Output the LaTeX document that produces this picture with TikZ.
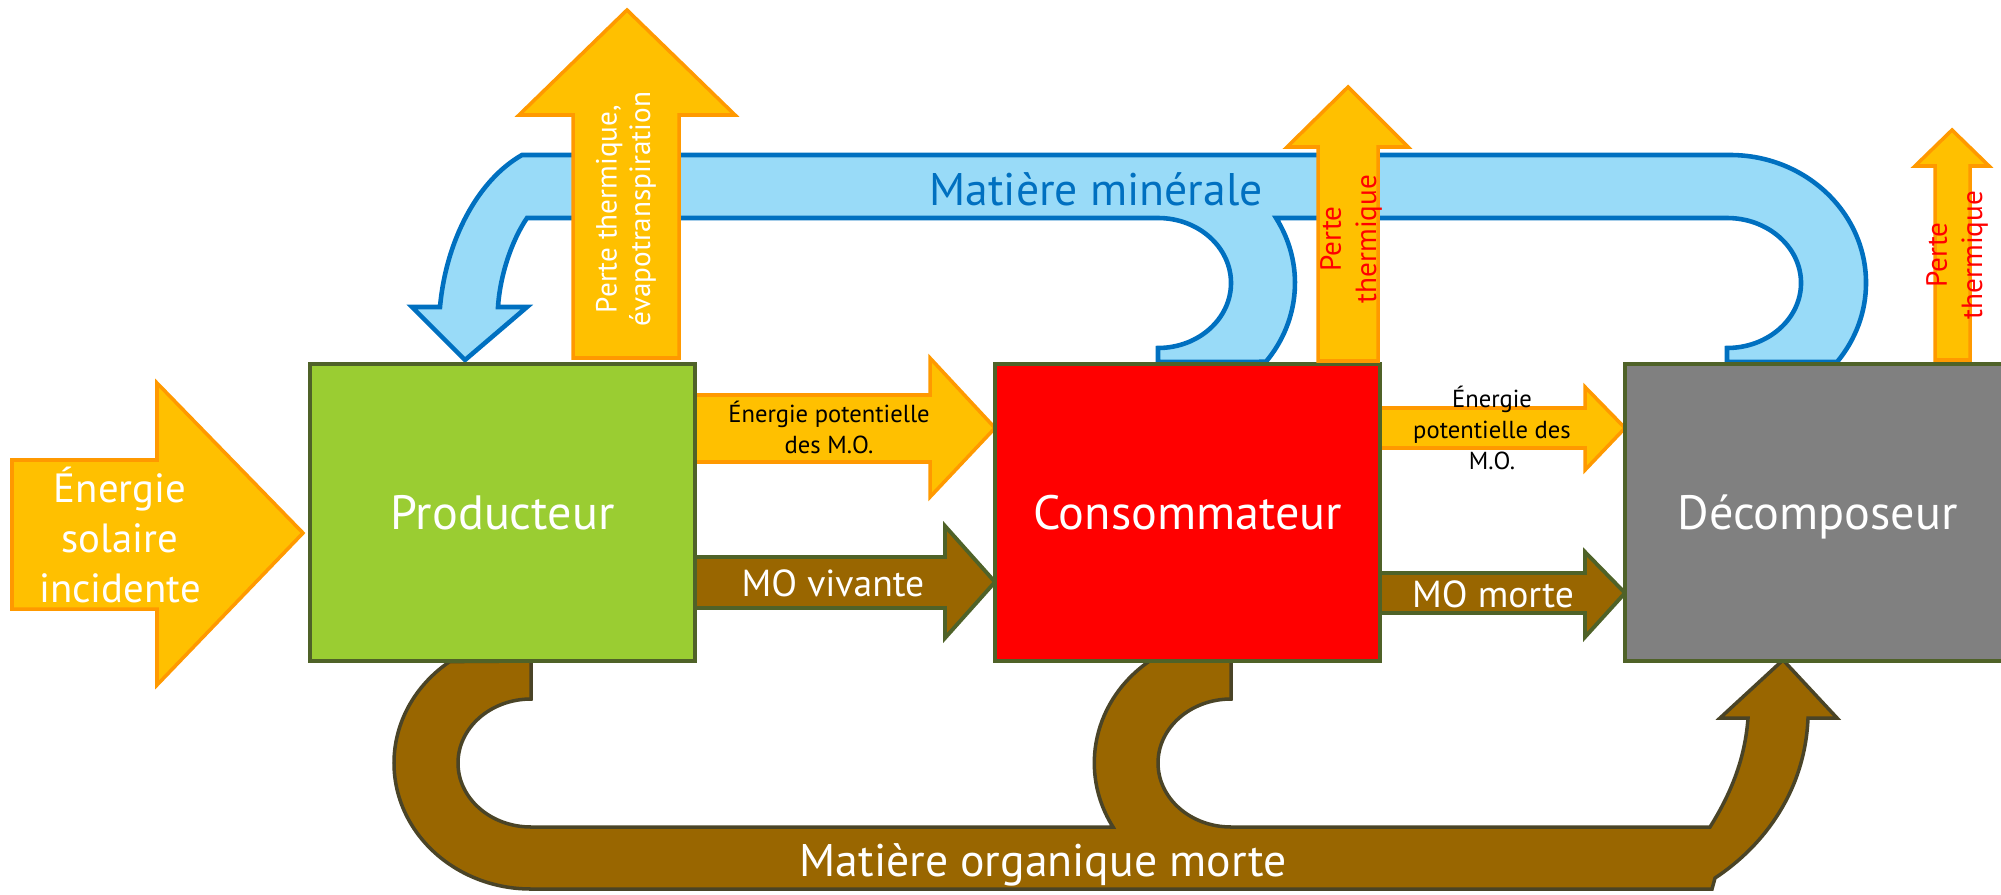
\documentclass[tikz,border=0pt]{standalone}
\usepackage{fontspec}
\setmainfont{PT Sans}
\definecolor{sunfill}{HTML}{FFC000}
\definecolor{sunline}{HTML}{FF9900}
\definecolor{prodgreen}{HTML}{9ACD32}
\definecolor{decgray}{HTML}{808080}
\definecolor{boxline}{HTML}{4F6228}
\definecolor{minfill}{HTML}{99DBF8}
\definecolor{minline}{HTML}{0070C0}
\definecolor{mobrown}{HTML}{996600}
\definecolor{moline}{HTML}{4A4427}
\begin{document}
\begin{tikzpicture}[x=0.01cm, y=-0.01cm, line join=miter,
  box/.style={draw=boxline, line width=1.2pt, minimum width=3.85cm, minimum height=2.97cm, inner sep=0pt,
    text=white, font=\fontsize{13.7}{16}\selectfont, text height=9.6pt, text depth=0pt},
  sunarrow/.style={fill=sunfill, draw=sunline, line width=1pt},
  moarrow/.style={fill=mobrown, draw=boxline, line width=1.1pt},
  minband/.style={fill=minfill, draw=minline, line width=1.3pt},
  omband/.style={fill=mobrown, draw=moline, line width=1pt},
  bandlabel/.style={font=\fontsize{13}{15}\selectfont, text height=9.1pt, text depth=0pt, inner sep=0pt},
  molabel/.style={text=white, font=\fontsize{10.7}{12}\selectfont, text height=7.5pt, text depth=0pt, inner sep=0pt},
  epotlabel/.style={align=center, font=\fontsize{7}{8.8}\selectfont, inner sep=0pt},
  pertelabel/.style={rotate=90, align=center, inner sep=0pt, font=\fontsize{8.3}{10}\selectfont}]
  \useasboundingbox (0,0) rectangle (2001,894);
  \clip (0,0) rectangle (2001,894);

  \draw[minband] (465,360) -- (412,307) -- (440,307) .. controls (446,240) and (478,180) .. (522,155)
    -- (1730,155) arc[start angle=-90, end angle=38, x radius=136, y radius=128]
    -- (1727,362) -- (1727,348) arc[start angle=90, end angle=-90, x radius=74, y radius=65]
    -- (1276,218) arc[start angle=-30.5, end angle=38, x radius=137, y radius=128]
    -- (1158,362) -- (1158,348) arc[start angle=90, end angle=-90, x radius=73, y radius=65]
    -- (527,218) .. controls (512,240) and (500,275) .. (498,307) -- (527,307) -- cycle;
  \draw[omband] (531,661) -- (531,699) arc[start angle=-90, end angle=-270, x radius=73, y radius=64]
    -- (1113,827) arc[start angle=149.7, end angle=233.6, x radius=137, y radius=127]
    -- (1231,661) -- (1231,699) arc[start angle=-90, end angle=-270, x radius=73, y radius=64]
    -- (1710,827) .. controls (1730,795) and (1745,760) .. (1748,718) -- (1720,718) -- (1783,660)
    -- (1837,718) -- (1808,718) .. controls (1805,790) and (1765,845) .. (1715,878) -- (1712,889)
    -- (531,889) arc[start angle=90, end angle=233.6, x radius=137, y radius=126] -- cycle;

  \draw[sunarrow] (12,460) -- (157,460) -- (157,383) -- (303,533) -- (157,685) -- (157,609) -- (12,609) -- cycle;
  \draw[sunarrow] (695,395) -- (930,395) -- (930,358) -- (995,428) -- (930,497) -- (930,462) -- (695,462) -- cycle;
  \draw[moarrow] (695,557) -- (945,557) -- (945,526) -- (995,582) -- (945,638) -- (945,608) -- (695,608) -- cycle;
  \draw[sunarrow] (1380,408) -- (1585,408) -- (1585,387) -- (1625,428) -- (1585,470) -- (1585,448) -- (1380,448) -- cycle;
  \draw[moarrow] (1380,573) -- (1585,573) -- (1585,552) -- (1625,593) -- (1585,637) -- (1585,613) -- (1380,613) -- cycle;

  \node[box, fill=prodgreen] (prod) at (502.5,512.5) {Producteur};
  \node[box, fill=red] (cons) at (1187.5,512.5) {Consommateur};
  \node[box, fill=decgray] (decomp) at (1817.5,512.5) {Décomposeur};

  \draw[sunarrow] (573,358) -- (573,115) -- (519,115) -- (627,10) -- (735,115) -- (679,115) -- (679,358) -- cycle;
  \draw[sunarrow] (1318,361) -- (1318,147) -- (1287,147) -- (1348,87) -- (1408,147) -- (1378,147) -- (1378,361) -- cycle;
  \draw[sunarrow] (1935,360) -- (1935,166) -- (1915,166) -- (1952,130) -- (1989,166) -- (1970,166) -- (1970,360) -- cycle;

  \node[text=white, align=center, inner sep=0pt, font=\fontsize{11.6}{14.2}\selectfont] (sunlabel) at (120,535) {Énergie\\solaire\\incidente};
  \node[epotlabel] (epot1) at (829,427) {Énergie potentielle\\des M.O.};
  \node[epotlabel] (epot2) at (1492,428) {Énergie\\potentielle des\\M.O.};
  \node[molabel] (movive) at (833,583) {MO vivante};
  \node[molabel] (momorte) at (1493,594) {MO morte};
  \node[bandlabel, text=minline] (minlabel) at (1096,189) {Matière minérale};
  \node[bandlabel, text=white] (omlabel) at (1043,860) {Matière organique morte};
  \node[pertelabel, text=white, font=\fontsize{8.3}{9.5}\selectfont] (perte1) at (626,209) {Perte thermique,\\évapotranspiration};
  \node[pertelabel, text=red] (perte2) at (1351,239) {Perte\\thermique};
  \node[pertelabel, text=red] (perte3) at (1957,255) {Perte\\thermique};
\end{tikzpicture}
\end{document}
